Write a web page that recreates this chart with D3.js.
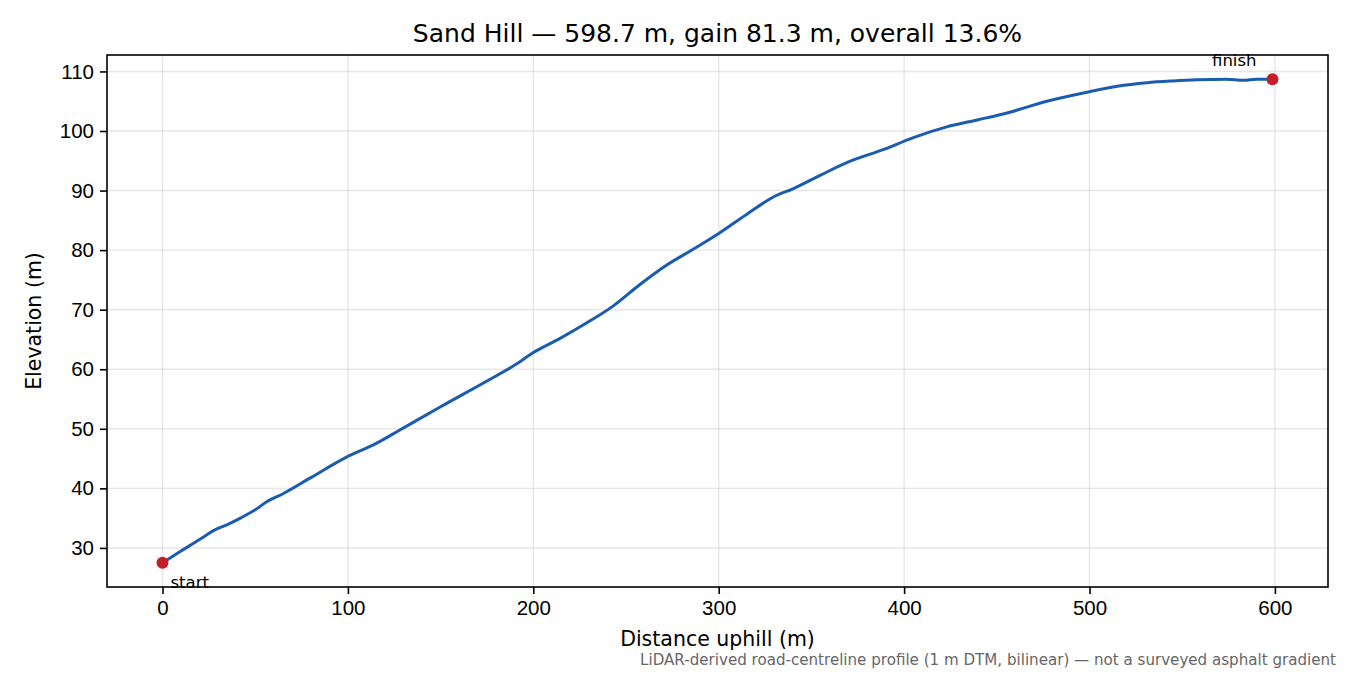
<!DOCTYPE html>
<html>
<head>
<meta charset="utf-8">
<script src="https://cdn.jsdelivr.net/npm/d3@7"></script>
<style>
  body { margin: 0; background: #fff; }
  svg { display: block; font-family: "DejaVu Sans", sans-serif; }
</style>
</head>
<body>
<div id="chart"></div>
<script>
// profile
const distance = [0, 10, 20, 28, 35, 42, 50, 56, 65, 80, 99, 115, 128, 150, 176, 190, 200, 214, 230, 243,
    257, 272, 286, 300, 315, 330, 340, 355, 370, 389, 405, 423, 440, 454, 477, 500, 515, 531, 545, 558,
    574, 583, 590, 598.7];
const elevation = [27.5, 29.5, 31.4, 33.0, 33.9, 35.0, 36.4, 37.7, 39.1, 41.8, 45.2, 47.5, 49.8, 53.7, 58.2, 60.7,
    62.8, 65.1, 68.0, 70.6, 74.1, 77.5, 80.1, 82.8, 86.0, 89.0, 90.3, 92.6, 94.8, 96.9, 98.9, 100.7, 101.9,
    102.9, 105.0, 106.6, 107.5, 108.1, 108.4, 108.6, 108.7, 108.5, 108.7, 108.7];
const xTicks = [0, 100, 200, 300, 400, 500, 600];
const yTicks = [30, 40, 50, 60, 70, 80, 90, 100, 110];
const endLabels = ['start', 'finish'];

const width = 1350;
const height = 675;
const margin = {top: 55, right: 22, bottom: 88, left: 107};

const points = distance.map((d, i) => ({x: d, y: elevation[i]}));
const ends = [points[0], points[points.length - 1]];

// matplotlib-style 5% padding
const xPad = (d3.max(distance) - d3.min(distance)) * 0.05;
const yPad = (d3.max(elevation) - d3.min(elevation)) * 0.05;

const x = d3.scaleLinear()
    .domain([d3.min(distance) - xPad, d3.max(distance) + xPad])
    .range([margin.left, width - margin.right]);
const y = d3.scaleLinear()
    .domain([d3.min(elevation) - yPad, d3.max(elevation) + yPad])
    .range([height - margin.bottom, margin.top]);

const svg = d3.select('#chart')
    .append('svg')
    .attr('width', width)
    .attr('height', height);

// grid
svg.append('g')
    .selectAll('line')
    .data(xTicks)
    .enter().append('line')
    .attr('x1', d => x(d)).attr('x2', d => x(d))
    .attr('y1', margin.top).attr('y2', height - margin.bottom)
    .attr('stroke', '#b0b0b0').attr('stroke-opacity', 0.3).attr('stroke-width', 1.4);

svg.append('g')
    .selectAll('line')
    .data(yTicks)
    .enter().append('line')
    .attr('x1', margin.left).attr('x2', width - margin.right)
    .attr('y1', d => y(d)).attr('y2', d => y(d))
    .attr('stroke', '#b0b0b0').attr('stroke-opacity', 0.3).attr('stroke-width', 1.4);

// axes
const xAxis = svg.append('g')
    .attr('transform', `translate(0,${height - margin.bottom})`)
    .call(d3.axisBottom(x).tickValues(xTicks).tickSize(7).tickPadding(6).tickSizeOuter(0));
const yAxis = svg.append('g')
    .attr('transform', `translate(${margin.left},0)`)
    .call(d3.axisLeft(y).tickValues(yTicks).tickSize(7).tickPadding(6).tickSizeOuter(0));

[xAxis, yAxis].forEach(a => {
    a.select('.domain').remove();
    a.selectAll('line').attr('stroke', '#000').attr('stroke-width', 1.6);
    a.selectAll('text').attr('fill', '#000').style('font-size', '20.5px');
});

// frame
svg.append('rect')
    .attr('x', margin.left)
    .attr('y', margin.top)
    .attr('width', width - margin.left - margin.right)
    .attr('height', height - margin.top - margin.bottom)
    .attr('fill', 'none')
    .attr('stroke', '#000')
    .attr('stroke-width', 1.6);

// profile line
const line = d3.line()
    .x(d => x(d.x))
    .y(d => y(d.y))
    .curve(d3.curveMonotoneX);

svg.append('path')
    .datum(points)
    .attr('d', line)
    .attr('fill', 'none')
    .attr('stroke', '#1a5cb0')
    .attr('stroke-width', 3)
    .attr('stroke-linejoin', 'round');

svg.append('g')
    .selectAll('circle')
    .data(ends)
    .enter().append('circle')
    .attr('cx', d => x(d.x))
    .attr('cy', d => y(d.y))
    .attr('r', 6)
    .attr('fill', '#c41e2a');

svg.append('text')
    .attr('x', x(ends[0].x) + 8)
    .attr('y', y(ends[0].y) + 25)
    .style('font-size', '16.5px')
    .text(endLabels[0]);

svg.append('text')
    .attr('x', x(ends[1].x) - 16)
    .attr('y', y(ends[1].y) - 13)
    .attr('text-anchor', 'end')
    .style('font-size', '16.5px')
    .text(endLabels[1]);

// titles
svg.append('text')
    .attr('x', (margin.left + width - margin.right) / 2)
    .attr('y', 42)
    .attr('text-anchor', 'middle')
    .style('font-size', '25px')
    .text('Sand Hill — 598.7 m, gain 81.3 m, overall 13.6%');

svg.append('text')
    .attr('x', (margin.left + width - margin.right) / 2)
    .attr('y', 646)
    .attr('text-anchor', 'middle')
    .style('font-size', '20.5px')
    .text('Distance uphill (m)');

svg.append('text')
    .attr('transform', `translate(41,${(margin.top + height - margin.bottom) / 2}) rotate(-90)`)
    .attr('text-anchor', 'middle')
    .style('font-size', '20.5px')
    .text('Elevation (m)');

svg.append('text')
    .attr('x', 1336)
    .attr('y', 665)
    .attr('text-anchor', 'end')
    .attr('fill', '#666')
    .style('font-size', '15.1px')
    .text('LiDAR-derived road-centreline profile (1 m DTM, bilinear) — not a surveyed asphalt gradient');
</script>
</body>
</html>
